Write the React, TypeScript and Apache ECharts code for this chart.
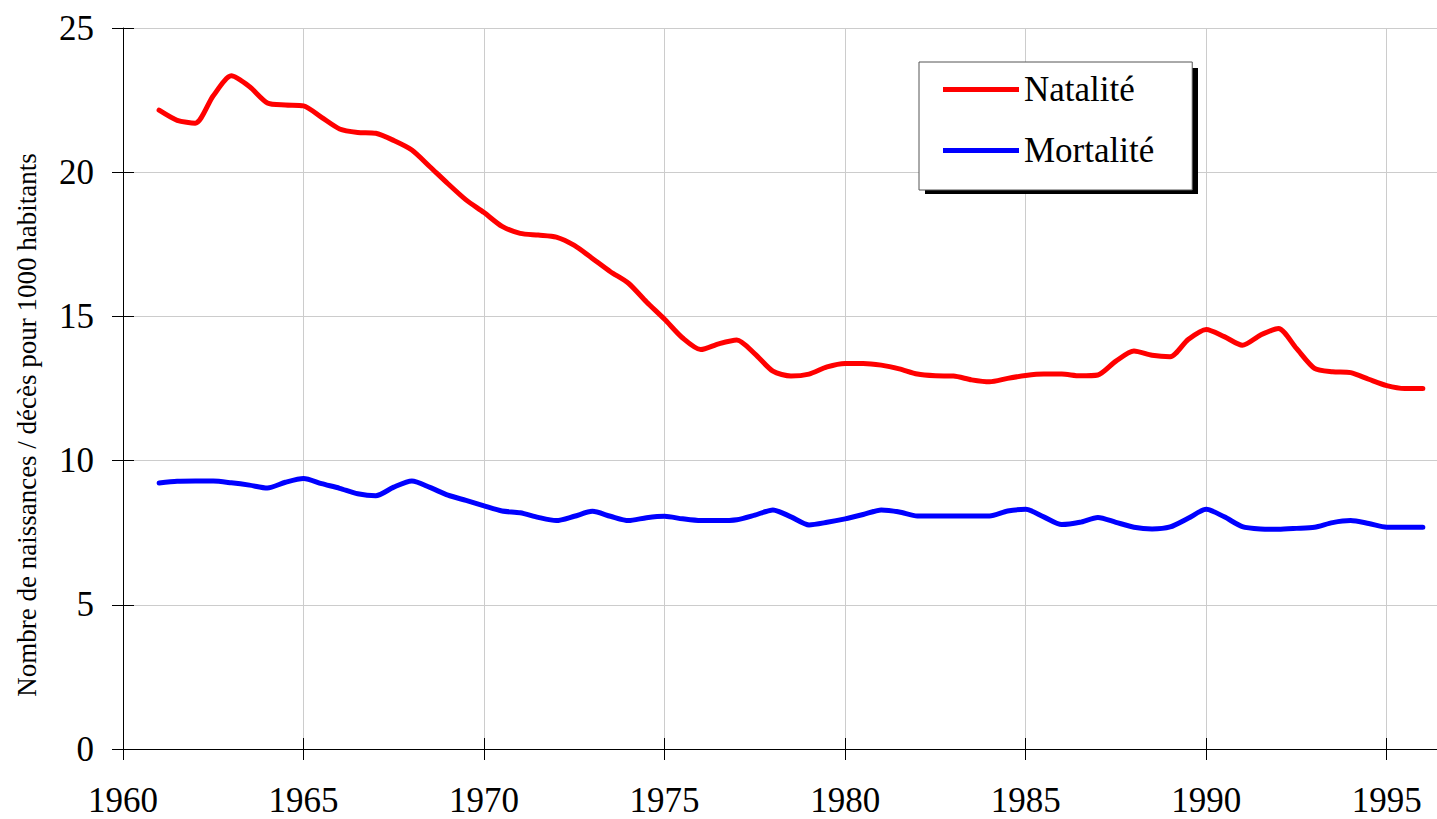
import React, { useEffect, useRef } from "react";
import * as echarts from "echarts";

// Half-yearly observation points (years)
const years: number[] = [];
for (let i = 0; i <= 70; i++) years.push(1961 + i * 0.5);

const natalite: number[] = [
  22.15, 21.8, 21.7, 22.65, 23.34, 22.97, 22.4, 22.33, 22.3, 21.9,
  21.5, 21.38, 21.35, 21.1, 20.77, 20.19, 19.6, 19.04, 18.6, 18.12,
  17.88, 17.82, 17.75, 17.46, 17.01, 16.55, 16.15, 15.5, 14.9, 14.25,
  13.85, 14.05, 14.18, 13.7, 13.1, 12.93, 13.0, 13.25, 13.37, 13.37,
  13.31, 13.18, 13.0, 12.94, 12.93, 12.8, 12.73, 12.85, 12.95, 13.0,
  13.0, 12.94, 12.97, 13.45, 13.8, 13.65, 13.6, 14.2, 14.55, 14.3,
  14.0, 14.35, 14.58, 13.89, 13.2, 13.08, 13.05, 12.82, 12.6, 12.5,
  12.5,
];

const mortalite: number[] = [
  9.22, 9.28, 9.29, 9.29, 9.23, 9.15, 9.05, 9.25, 9.38, 9.2,
  9.04, 8.85, 8.78, 9.08, 9.29, 9.07, 8.8, 8.62, 8.43, 8.25,
  8.19, 8.03, 7.92, 8.07, 8.24, 8.07, 7.92, 8.02, 8.07, 7.98,
  7.92, 7.92, 7.95, 8.11, 8.29, 8.05, 7.77, 7.86, 7.98, 8.13,
  8.29, 8.22, 8.08, 8.08, 8.08, 8.08, 8.08, 8.25, 8.31, 8.05,
  7.78, 7.86, 8.03, 7.86, 7.69, 7.63, 7.7, 8.0, 8.31, 8.05,
  7.71, 7.63, 7.62, 7.65, 7.69, 7.85, 7.92, 7.82, 7.69, 7.69,
  7.69,
];

const seriesNames = ["Natalité", "Mortalité"];
const yTitle = "Nombre de naissances / décès pour 1000 habitants";

const FONT = "'Liberation Serif', 'Times New Roman', serif";

export default function App() {
  const ref = useRef<HTMLDivElement>(null);

  useEffect(() => {
    if (!ref.current) return;
    const chart = echarts.init(ref.current, null, { renderer: "svg" });
    const pairs = (vals: number[]) => years.map((y, i) => [y, vals[i]]);

    const xCommon = {
      type: "value",
      min: 1960,
      max: 1997.5,
      interval: 5,
      position: "bottom",
    };
    const yCommon = {
      type: "value",
      min: 0,
      max: 25,
      interval: 5,
      position: "left",
    };

    chart.setOption({
      animation: false,
      backgroundColor: "#ffffff",
      textStyle: { fontFamily: FONT },
      grid: { left: 123, top: 28, right: 0, bottom: 70, containLabel: false },
      xAxis: [
        {
          ...xCommon,
          axisLine: { show: true, lineStyle: { color: "#000", width: 1 } },
          axisTick: { show: true, inside: false, length: 11, lineStyle: { color: "#000" } },
          axisLabel: {
            show: true,
            margin: 34,
            fontSize: 35,
            color: "#000",
            fontFamily: FONT,
            lineHeight: 35,
            formatter: (v: number) => (v % 5 === 0 ? String(v) : ""),
          },
          splitLine: { show: true, lineStyle: { color: "#cccccc", width: 1 } },
        },
        {
          ...xCommon,
          axisLine: { show: false },
          axisTick: { show: true, inside: true, length: 11, lineStyle: { color: "#000" } },
          axisLabel: { show: false },
          splitLine: { show: false },
        },
      ],
      yAxis: [
        {
          ...yCommon,
          axisLine: { show: true, lineStyle: { color: "#000", width: 1 } },
          axisTick: { show: true, inside: false, length: 11, lineStyle: { color: "#000" } },
          axisLabel: {
            show: true,
            margin: 29,
            fontSize: 35,
            color: "#000",
            fontFamily: FONT,
          },
          splitLine: { show: true, lineStyle: { color: "#cccccc", width: 1 } },
        },
        {
          ...yCommon,
          axisLine: { show: false },
          axisTick: { show: true, inside: true, length: 11, lineStyle: { color: "#000" } },
          axisLabel: { show: false },
          splitLine: { show: false },
        },
      ],
      legend: {
        orient: "vertical",
        left: 919,
        top: 62,
        z: 10,
        padding: [10, 38, 22, 24],
        itemGap: 26,
        itemWidth: 76,
        itemHeight: 5,
        icon: "rect",
        backgroundColor: "#ffffff",
        borderColor: "#555555",
        borderWidth: 1,
        borderRadius: 0,
        textStyle: {
          fontSize: 35,
          lineHeight: 34,
          color: "#000",
          fontFamily: FONT,
        },
        data: seriesNames,
      },
      graphic: [
        {
          type: "rect",
          z: 5,
          shape: { x: 925, y: 68, width: 273, height: 126 },
          style: { fill: "#000" },
        },
        {
          type: "text",
          x: 27,
          y: 425,
          rotation: Math.PI / 2,
          style: {
            text: yTitle,
            font: `27px ${FONT}`,
            fill: "#000",
            align: "center",
            verticalAlign: "middle",
          },
        },
      ],
      series: [
        {
          name: seriesNames[0],
          type: "line",
          data: pairs(natalite),
          showSymbol: false,
          symbol: "none",
          smooth: 0.25,
          color: "#ff0000",
          lineStyle: { color: "#ff0000", width: 5, cap: "round", join: "round" },
        },
        {
          name: seriesNames[1],
          type: "line",
          data: pairs(mortalite),
          showSymbol: false,
          symbol: "none",
          smooth: 0.25,
          color: "#0000ff",
          lineStyle: { color: "#0000ff", width: 5, cap: "round", join: "round" },
        },
      ],
    });

    return () => chart.dispose();
  }, []);

  return (
    <div
      style={{
        position: "fixed",
        left: 0,
        top: 0,
        width: 1437,
        height: 819,
        overflow: "hidden",
        background: "#fff",
      }}
    >
      <div ref={ref} style={{ width: 1480, height: 819 }} />
    </div>
  );
}
